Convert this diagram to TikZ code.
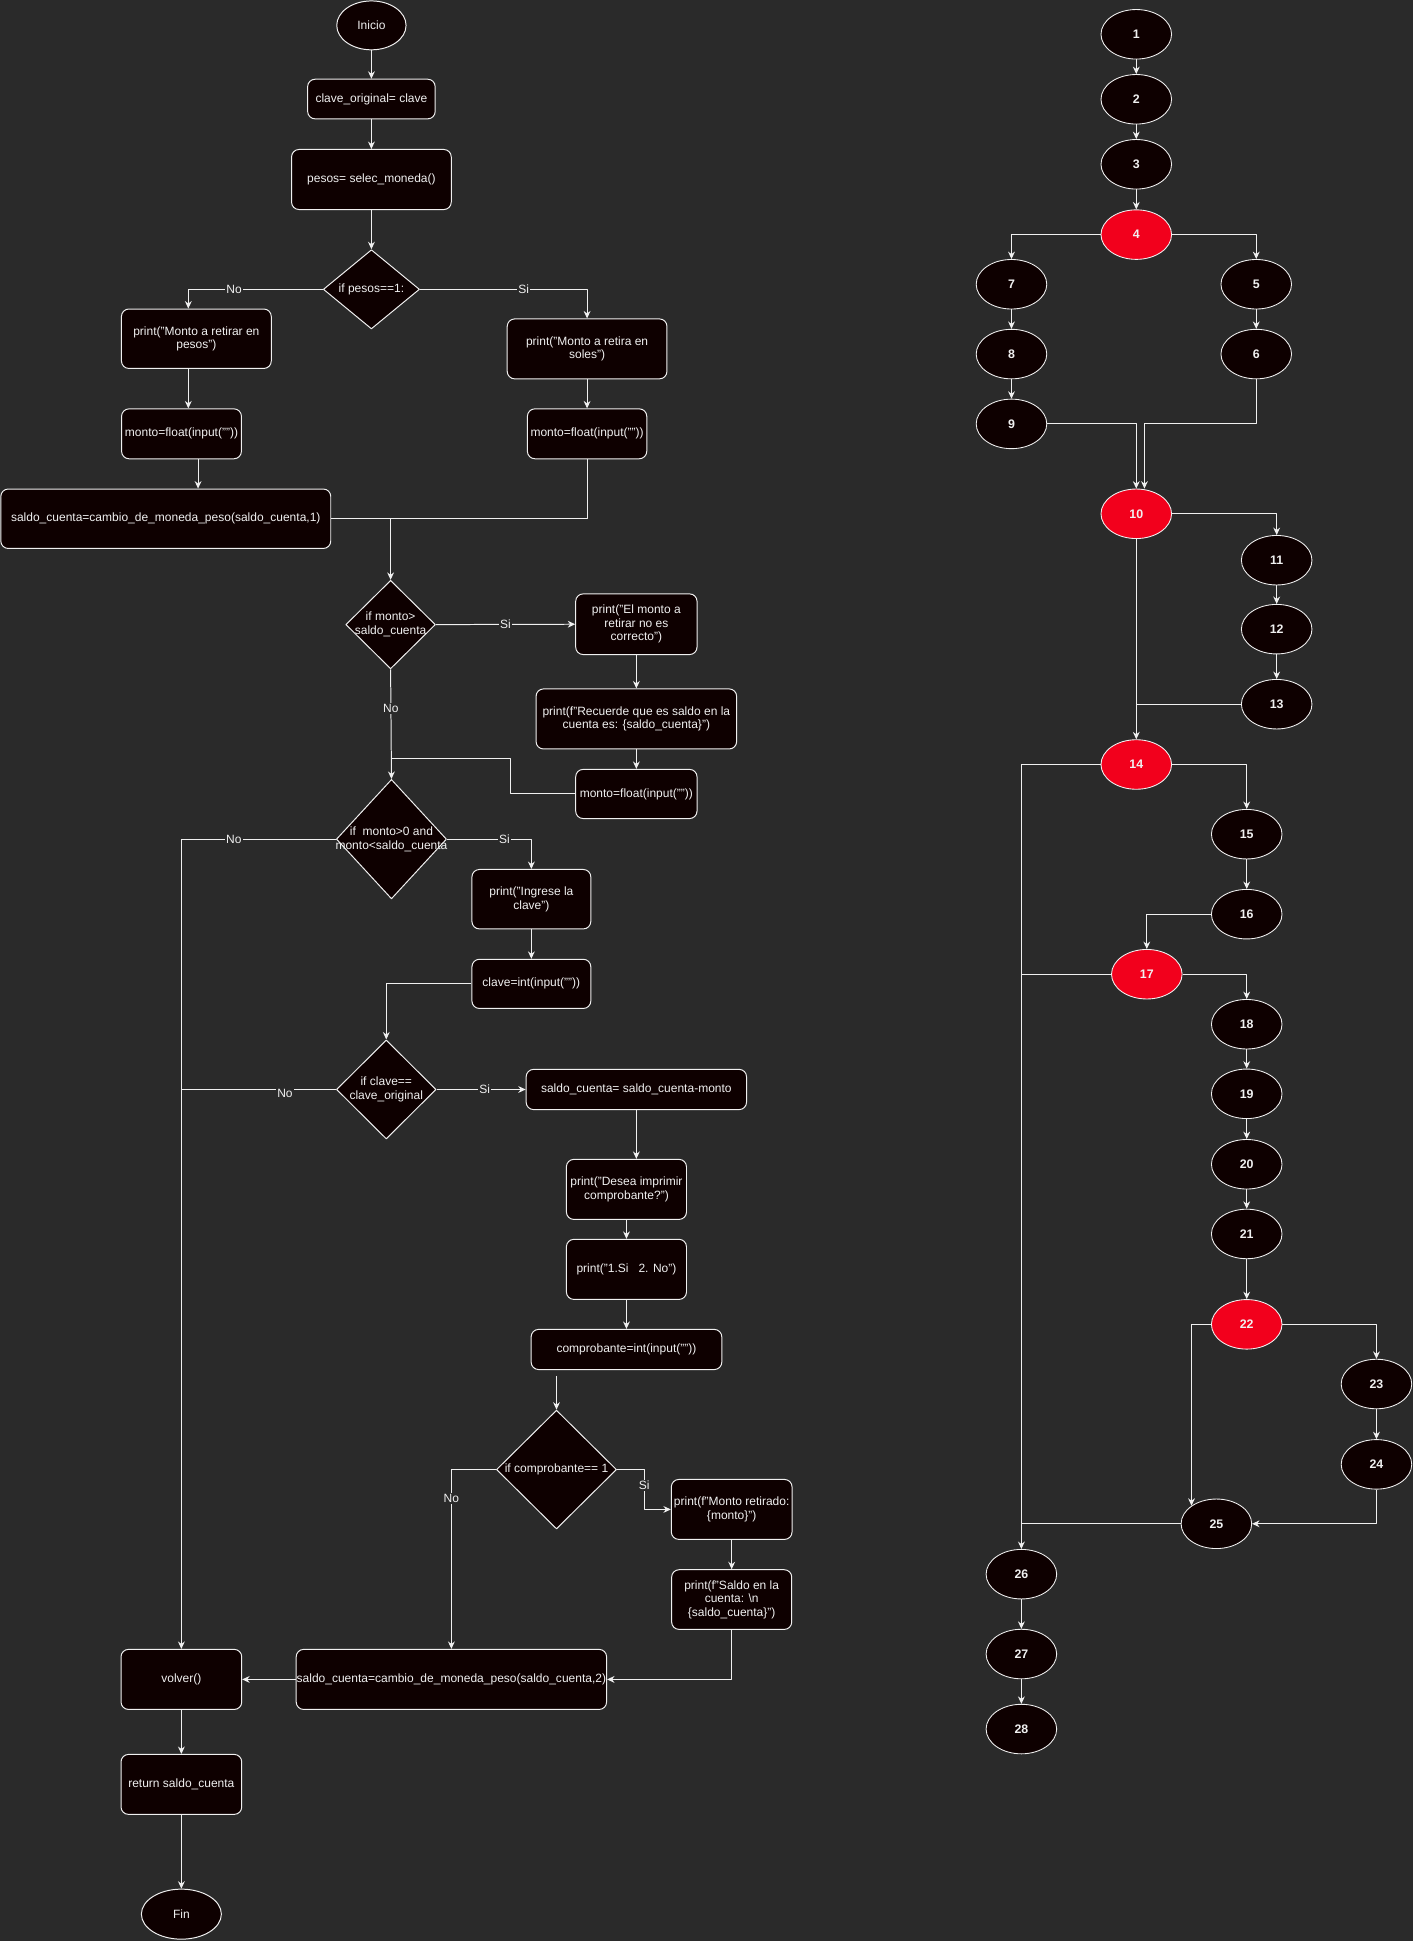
\documentclass[tikz,border=0pt]{standalone}
\usepackage{fontspec}
\setmainfont{Liberation Sans}[Ligatures=NoCommon]
\usetikzlibrary{shapes.geometric, arrows.meta}

\definecolor{canvas}{HTML}{2A2A2A}
\definecolor{boxfill}{HTML}{0E0000}
\definecolor{edge}{HTML}{F0F0F0}
\definecolor{hot}{HTML}{F2001C}

\newcommand{\nowide}[1]{\makebox[0pt]{#1}}

\begin{document}
\begin{tikzpicture}[x=1pt, y=-1pt, line join=round, font=\fontsize{9.7}{11}\selectfont]

  \def\pagew{1141.4}
  \def\pageh{1567.8}

  % Colors and styles
  \tikzset{
    proc/.style={draw=edge, fill=boxfill, rounded corners=6pt, line width=0.8pt, inner sep=0pt, align=center, text=edge},
    cond/.style={diamond, draw=edge, fill=boxfill, line width=0.8pt, inner sep=0pt, align=center, text=edge},
    term/.style={ellipse, draw=edge, fill=boxfill, line width=0.8pt, inner sep=0pt, text=edge},
    cfg/.style={ellipse, draw=edge, line width=0.7pt, minimum width=57pt, minimum height=40pt, inner sep=0pt, text=edge, font=\fontsize{10}{12}\selectfont\bfseries},
    flow/.style={-{Stealth[length=6pt, width=5.5pt]}, line width=0.8pt, edge},
    link/.style={line width=0.8pt, edge},
    tag/.style={fill=canvas, inner sep=1pt, text=edge},
  }

  % Background
  \fill[canvas] (0,0) rectangle (\pagew,\pageh);
  \useasboundingbox (0,0) rectangle (\pagew,\pageh);

  % Flowchart
  \node[term, minimum width=56pt, minimum height=39.5pt] (ini) at (300,20.5) {Inicio};
  \node[proc, minimum width=103pt, minimum height=32pt] (clave) at (300,80) {clave\_original= clave};
  \node[proc, minimum width=129pt, minimum height=48.5pt] (pesos) at (300,145) {pesos= selec\_moneda()};
  \node[cond, minimum width=77.7pt, minimum height=64pt] (d4) at (300,233.7) {\nowide{if pesos==1:}};
  \node[proc, minimum width=121pt, minimum height=48pt] (b5) at (158.6,273.6) {print("Monto a retirar en\\pesos")};
  \node[proc, minimum width=129pt, minimum height=48.4pt] (b6) at (474.2,281.8) {print("Monto a retira en\\soles")};
  \node[proc, minimum width=96.8pt, minimum height=40.3pt] (b7) at (146.6,350.4) {monto=float(input(""))};
  \node[proc, minimum width=96.4pt, minimum height=40.3pt] (b8) at (474.2,350.4) {monto=float(input(""))};
  \node[proc, minimum width=266.5pt, minimum height=48pt] (b9) at (133.9,419) {saldo\_cuenta=cambio\_de\_moneda\_peso(saldo\_cuenta,1)};

  \node[cond, minimum width=72.4pt, minimum height=71.5pt] (d10) at (315.5,504.5) {\nowide{if monto>}\\\nowide{saldo\_cuenta}};
  \node[proc, minimum width=98pt, minimum height=49pt] (b11) at (514,504.2) {print("El monto a\\retirar no es\\correcto")};
  \node[proc, minimum width=162pt, minimum height=48.5pt] (b12) at (514,580.7) {print(f"Recuerde que es saldo en la\\cuenta es: \{saldo\_cuenta\}")};
  \node[proc, minimum width=98pt, minimum height=39.7pt] (b13) at (514,641.3) {monto=float(input(""))};

  \node[cond, minimum width=89pt, minimum height=96.5pt] (d14) at (316.2,677.8) {\nowide{if\ \ monto>0 and}\\\nowide{monto<saldo\_cuenta}};
  \node[proc, minimum width=96pt, minimum height=48pt] (b15) at (429.2,726.3) {print("Ingrese la\\clave")};
  \node[proc, minimum width=96pt, minimum height=39.7pt] (b16) at (429.2,794.7) {clave=int(input(""))};

  \node[cond, minimum width=80.5pt, minimum height=80pt] (d17) at (312,880) {\nowide{if clave==}\\\nowide{clave\_original}};
  \node[proc, minimum width=178pt, minimum height=32.5pt] (b18) at (514,880) {saldo\_cuenta= saldo\_cuenta-monto};
  \node[proc, minimum width=97pt, minimum height=48.5pt] (b19) at (506,960.7) {print("Desea imprimir\\comprobante?")};
  \node[proc, minimum width=97pt, minimum height=48.5pt] (b20) at (506,1025.3) {print("1.Si\ \ \ 2. No")};
  \node[proc, minimum width=154pt, minimum height=32.4pt] (b21) at (506,1090) {comprobante=int(input(""))};
  \coordinate (c21) at (449.5,1111.4);

  \node[cond, minimum width=97pt, minimum height=96pt] (d22) at (449.5,1187) {\nowide{if comprobante== 1}};
  \node[proc, minimum width=97.5pt, minimum height=48.4pt] (b23) at (591,1219.2) {print(f"Monto retirado:\\\{monto\}")};
  \node[proc, minimum width=97pt, minimum height=48.2pt] (b24) at (591,1292) {print(f"Saldo en la\\cuenta: \textbackslash n\\\{saldo\_cuenta\}")};
  \node[proc, minimum width=250.7pt, minimum height=48.5pt] (b25) at (364.6,1356.5) {saldo\_cuenta=cambio\_de\_moneda\_peso(saldo\_cuenta,2)};

  \node[proc, minimum width=97.5pt, minimum height=48.5pt] (vol) at (146.5,1356.5) {volver()};
  \node[proc, minimum width=97.5pt, minimum height=48.4pt] (ret) at (146.5,1441.3) {return saldo\_cuenta};
  \node[term, minimum width=64.6pt, minimum height=40.4pt] (fin) at (146.5,1546.1) {Fin};

  % Flowchart connections
  \draw[flow] (ini) -- (clave);
  \draw[flow] (clave) -- (pesos);
  \draw[flow] (pesos) -- (d4);
  \draw[flow] (d4.west) -| node[tag, pos=0.33] {No} ([xshift=-6.5pt]b5.north);
  \draw[flow] (d4.east) -| node[tag, pos=0.31] {Si} (b6.north);
  \draw[flow] ([xshift=-6.5pt]b5.south) -- ([xshift=-6.5pt]b5.south |- b7.north);
  \draw[flow] (b6) -- (b8);
  \draw[flow] ([xshift=13.4pt]b7.south) -- ([xshift=13.4pt]b7.south |- b9.north);
  \draw[flow] (b9.east) -| (d10.north);
  \draw[link] (b8.south) |- (b9.east);

  \draw[flow] (d10.east) -- node[tag] {Si} (b11.west);
  \draw[flow] (b11) -- (b12);
  \draw[flow] (b12) -- (b13);
  \draw[flow] (d10.south) -- node[tag, pos=0.36] {No} (d14.north);
  \coordinate (j1) at (315.8,613);
  \draw[link] (b13.west) -- ++(-52,0) |- (j1);

  \draw[flow] (d14.west) -| node[tag, pos=0.33] {No} (vol.north);
  \draw[flow] (d14.east) -| node[tag, pos=0.34] {Si} (b15.north);
  \draw[flow] (b15) -- (b16);
  \draw[flow] (b16.west) -| (d17.north);

  \draw[link] (d17.west) -- node[tag, pos=0.33, yshift=-3pt] {No} (d17.west -| vol.north);
  \draw[flow] (d17.east) -- node[tag, pos=0.54] {Si} (b18.west);
  \draw[flow] (b18.south) -- (b18.south |- b19.north);
  \draw[flow] (b19) -- (b20);
  \draw[flow] (b20) -- (b21);
  \draw[flow] (c21) -- (d22.north);

  \draw[flow] (d22.west) -| node[tag, pos=0.58] {No} (b25.north);
  \draw[flow] (d22.east) -- ++(22,0) |- node[tag, pos=0.2] {Si} (b23.west);
  \draw[flow] (b23) -- (b24);
  \draw[flow] (b24.south) |- (b25.east);
  \draw[flow] (b25.west) -- (vol.east);
  \draw[flow] (vol) -- (ret);
  \draw[flow] (ret) -- (fin);

  % Control flow graph
  \foreach \n/\x/\y/\c in {1/917.8/27.7/boxfill, 2/917.8/80.2/boxfill, 3/917.8/132.7/boxfill,
      4/917.8/189.5/hot, 7/817/229.6/boxfill, 5/1014.7/229.6/boxfill, 8/817/286/boxfill,
      6/1014.7/286/boxfill, 9/817/342.4/boxfill, 10/917.8/415/hot, 11/1031.2/452.5/boxfill,
      12/1031.2/508.2/boxfill, 13/1031.2/568.8/boxfill, 14/917.8/617.5/hot, 15/1007/673.8/boxfill,
      16/1007/738.4/boxfill, 17/926.3/786.9/hot, 18/1007/827.3/boxfill, 19/1007/883.5/boxfill,
      20/1007/940.4/boxfill, 21/1007/996.7/boxfill, 22/1007/1069.7/hot, 23/1111.8/1117.9/boxfill,
      24/1111.8/1182.8/boxfill, 25/982.5/1230.8/boxfill, 26/825/1271.5/boxfill,
      27/825/1336/boxfill, 28/825/1396.6/boxfill}
    \node[cfg, fill=\c] (n\n) at (\x,\y) {\n};

  \foreach \a/\b in {1/2, 2/3, 3/4, 7/8, 8/9, 5/6, 11/12, 12/13, 10/14, 15/16,
      18/19, 19/20, 20/21, 21/22, 23/24, 26/27, 27/28}
    \draw[flow] (n\a) -- (n\b);

  \coordinate (t10) at ([xshift=6.6pt]n10.north);
  \draw[flow] (n4.west) -| (n7.north);
  \draw[flow] (n4.east) -| (n5.north);
  \draw[flow] (n9.east) -| (n10.north);
  \draw[flow] (n6.south) |- (t10 |- n9.east) -- (t10);
  \draw[flow] (n10.east) -| (n11.north);
  \draw[link] (n13.west) -- (n13.west -| n10.south);
  \draw[flow] (n14.west) -| (n26.north);
  \draw[flow] (n14.east) -| (n15.north);
  \draw[flow] (n16.west) -| (n17.north);
  \draw[link] (n17.west) -- (n17.west -| n26.north);
  \draw[flow] (n17.east) -| (n18.north);
  \draw[flow] (n22.west) -| (n25.144);
  \draw[flow] (n22.east) -| (n23.north);
  \draw[flow] (n24.south) |- (n25.east);
  \draw[link] (n25.west) -- (n25.west -| n26.north);

\end{tikzpicture}
\end{document}
